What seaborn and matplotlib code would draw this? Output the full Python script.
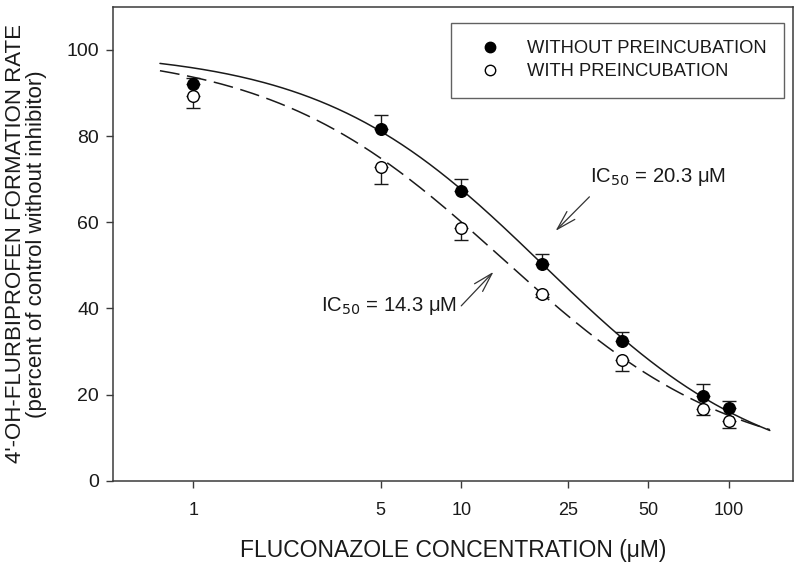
import numpy as np
import pandas as pd
import matplotlib
matplotlib.use('Agg')
import matplotlib.pyplot as plt
from matplotlib.lines import Line2D
import seaborn as sns

# concentrations (uM)
conc = [1, 5, 10, 20, 40, 80, 100]

# without preincubation (filled), error bars drawn upward
without_pre = [92.1, 81.7, 67.3, 50.3, 32.5, 19.7, 16.9]
without_err = [1.4, 3.2, 2.8, 2.4, 2.1, 2.8, 1.7]

# with preincubation (open), error bars drawn downward
with_pre = [89.3, 72.9, 58.7, 43.4, 28.1, 16.7, 13.9]
with_err = [2.8, 4.0, 2.8, 0.7, 2.6, 1.4, 1.6]

# fitted model parameters (top, bottom, IC50, hill slope)
fit_without = (100, 0, 20.3, 1.04)
fit_with = (100, 3, 14.3, 1.0)

tick_vals = [1, 5, 10, 25, 50, 100]
tick_labels = ['1', '5', '10', '25', '50', '100']

sns.set_style('ticks')
plt.rcParams['font.family'] = ['Liberation Sans', 'DejaVu Sans']

fig = plt.figure(figsize=(8, 5.67), dpi=100)
ax = fig.add_axes([0.141, 0.152, 0.850, 0.836])


def hill(x, p):
    top, bottom, ic50, n = p
    return bottom + (top - bottom) / (1 + (x / ic50) ** n)


xs = np.logspace(np.log10(0.75), np.log10(142), 200)
curves = pd.DataFrame({'x': xs, 'without': hill(xs, fit_without), 'with': hill(xs, fit_with)})

sns.lineplot(data=curves, x='x', y='without', ax=ax, color='#1a1a1a', lw=1.1)
sns.lineplot(data=curves, x='x', y='with', ax=ax, color='#1a1a1a', lw=1.1, dashes=False)
ax.lines[-1].set_dashes((13, 5))

ax.errorbar(conc, without_pre, yerr=[np.zeros(len(conc)), without_err], fmt='none',
            ecolor='#1a1a1a', elinewidth=1.0, capsize=5, capthick=1.0, zorder=3)
ax.errorbar(conc, with_pre, yerr=[with_err, np.zeros(len(conc))], fmt='none',
            ecolor='#1a1a1a', elinewidth=1.0, capsize=5, capthick=1.0, zorder=3)

pts = pd.DataFrame({'x': conc, 'without': without_pre, 'with': with_pre})
sns.scatterplot(data=pts, x='x', y='without', ax=ax, s=70, color='black',
                edgecolor='black', linewidth=1.0, zorder=4)
sns.scatterplot(data=pts, x='x', y='with', ax=ax, s=70, color='white',
                edgecolor='black', linewidth=1.0, zorder=4)

ax.set_xscale('log')
ax.set_xlim(0.5, 173)
ax.set_ylim(0, 110)
ax.set_xticks(tick_vals)
ax.set_xticklabels(tick_labels)
ax.xaxis.set_minor_locator(matplotlib.ticker.NullLocator())
ax.set_yticks([0, 20, 40, 60, 80, 100])

for s in ax.spines.values():
    s.set_color('#3a3a3a')
    s.set_linewidth(1.1)
ax.tick_params(axis='x', direction='out', length=5, width=1.0, color='#3a3a3a',
               pad=10, labelsize=13, labelcolor='#1a1a1a')
ax.tick_params(axis='y', direction='out', length=5, width=1.0, color='#3a3a3a',
               pad=5, labelsize=14, labelcolor='#1a1a1a')

ax.set_xlabel('FLUCONAZOLE CONCENTRATION (\u03bcM)', fontsize=16.5, labelpad=15,
              color='#1a1a1a')
ax.set_ylabel("4'-OH-FLURBIPROFEN FORMATION RATE\n(percent of control without inhibitor)",
              fontsize=16, labelpad=14, linespacing=1.0, color='#1a1a1a')

arrow = dict(arrowstyle='->, head_length=1.4, head_width=0.4', color='#333333',
             lw=0.9, shrinkA=0, shrinkB=0)
ax.annotate('', xy=(22.5, 58.0), xytext=(30.1, 65.9), arrowprops=arrow)
ax.annotate('', xy=(13.2, 48.5), xytext=(10.0, 40.6), arrowprops=arrow)
ax.text(30.3, 70.5, 'IC$_{50}$ = 20.3 \u03bcM', fontsize=14.6, va='center', ha='left',
        color='#1a1a1a')
ax.text(9.6, 40.5, 'IC$_{50}$ = 14.3 \u03bcM', fontsize=14.6, va='center', ha='right',
        color='#1a1a1a')

handles = [
    Line2D([], [], marker='o', ls='none', color='black', markerfacecolor='black', markersize=7.5),
    Line2D([], [], marker='o', ls='none', color='black', markerfacecolor='white', markersize=7.5),
]
leg = ax.legend(handles, ['WITHOUT PREINCUBATION', 'WITH PREINCUBATION'],
                loc='upper right', bbox_to_anchor=(0.987, 0.966), borderaxespad=0,
                frameon=True, fancybox=False, fontsize=13.2, borderpad=0.95,
                handlelength=2.4, handletextpad=0.8, labelspacing=0.32)
for t in leg.get_texts():
    t.set_color('#1a1a1a')
leg.get_frame().set_edgecolor('#3a3a3a')
leg.get_frame().set_linewidth(1.0)

plt.savefig('out.png', dpi=100)
